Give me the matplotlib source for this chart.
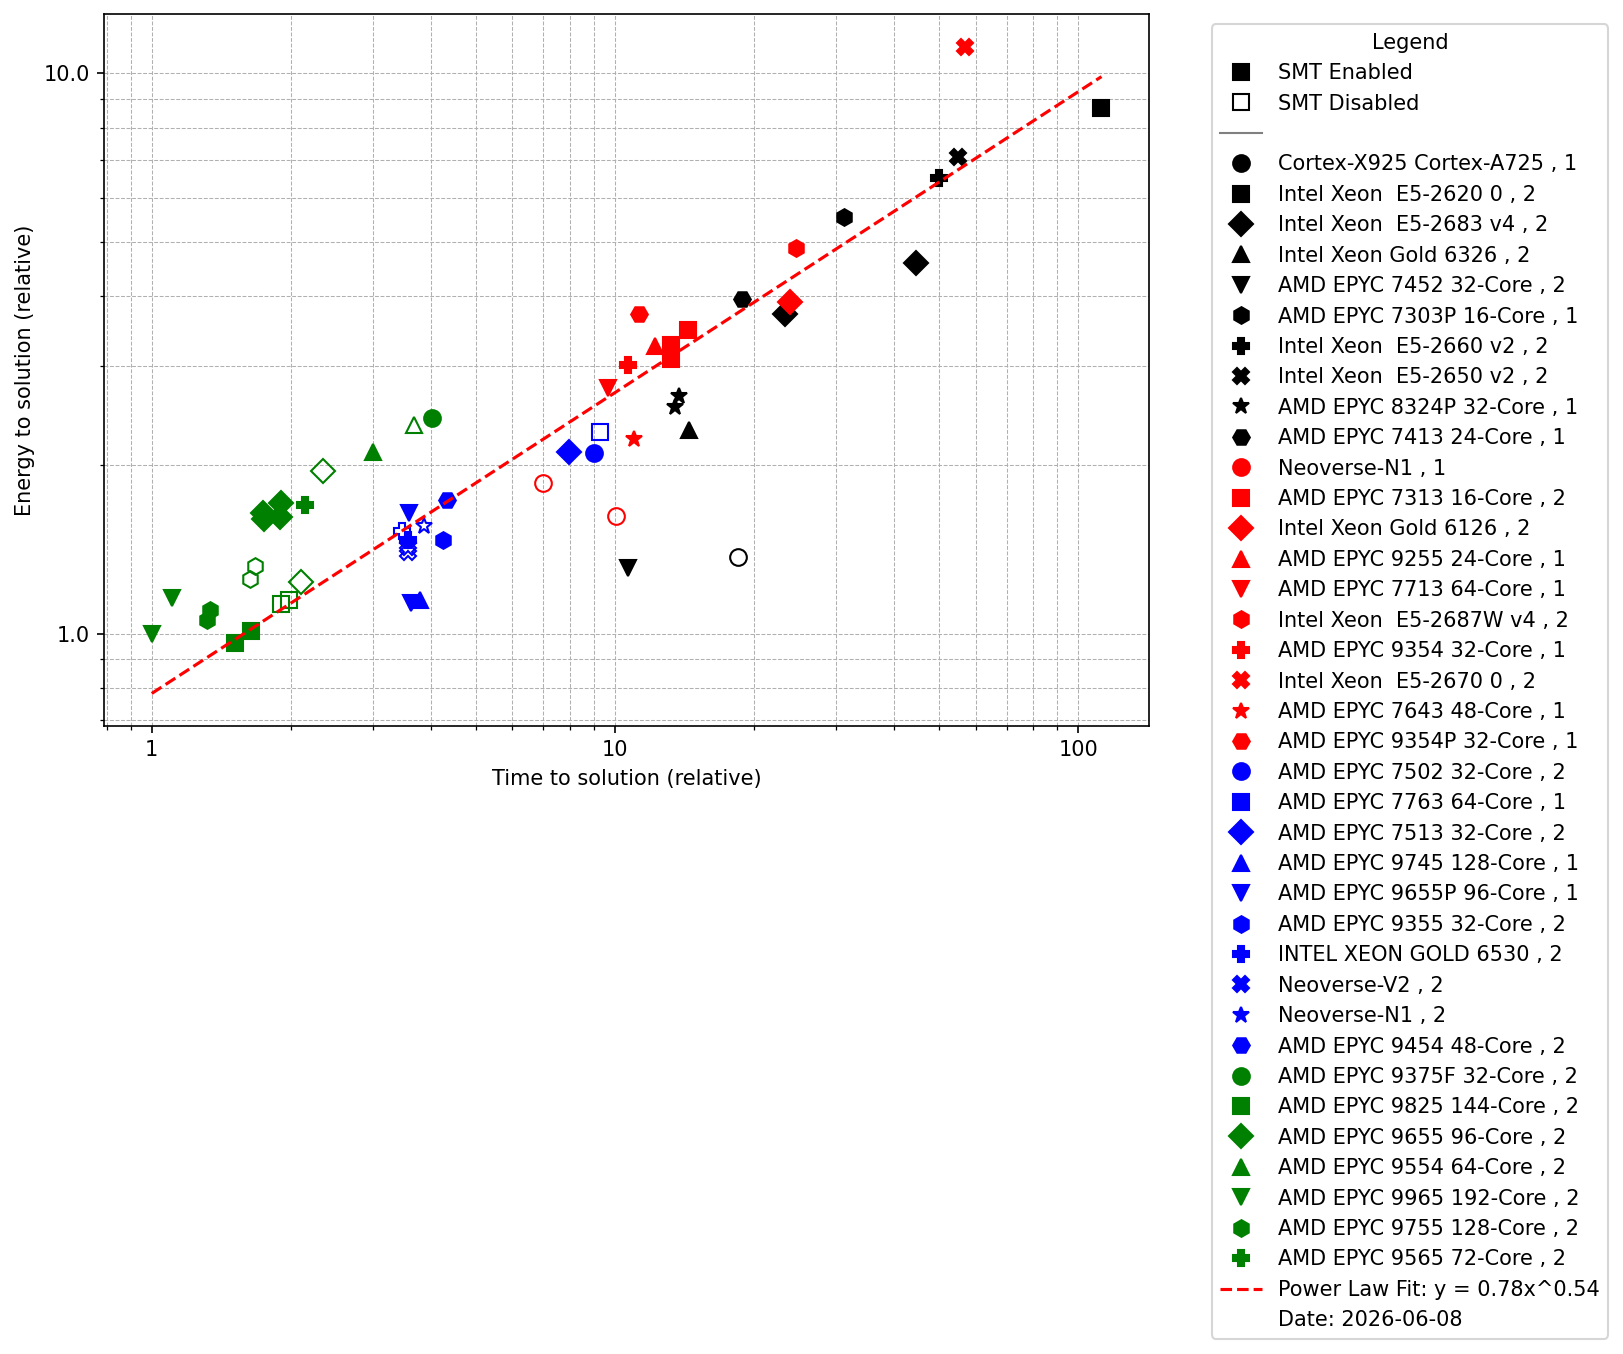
import matplotlib
matplotlib.use("Agg")
import matplotlib.pyplot as plt
from matplotlib.lines import Line2D
from matplotlib.ticker import FormatStrFormatter, FuncFormatter, NullFormatter
import numpy as np

cpu_names = [
    "Cortex-X925 Cortex-A725 , 1", "Intel Xeon  E5-2620 0 , 2", "Intel Xeon  E5-2683 v4 , 2",
    "Intel Xeon Gold 6326 , 2", "AMD EPYC 7452 32-Core , 2", "AMD EPYC 7303P 16-Core , 1",
    "Intel Xeon  E5-2660 v2 , 2", "Intel Xeon  E5-2650 v2 , 2", "AMD EPYC 8324P 32-Core , 1",
    "AMD EPYC 7413 24-Core , 1",
    "Neoverse-N1 , 1", "AMD EPYC 7313 16-Core , 2", "Intel Xeon Gold 6126 , 2",
    "AMD EPYC 9255 24-Core , 1", "AMD EPYC 7713 64-Core , 1", "Intel Xeon  E5-2687W v4 , 2",
    "AMD EPYC 9354 32-Core , 1", "Intel Xeon  E5-2670 0 , 2", "AMD EPYC 7643 48-Core , 1",
    "AMD EPYC 9354P 32-Core , 1",
    "AMD EPYC 7502 32-Core , 2", "AMD EPYC 7763 64-Core , 1", "AMD EPYC 7513 32-Core , 2",
    "AMD EPYC 9745 128-Core , 1", "AMD EPYC 9655P 96-Core , 1", "AMD EPYC 9355 32-Core , 2",
    "INTEL XEON GOLD 6530 , 2", "Neoverse-V2 , 2", "Neoverse-N1 , 2",
    "AMD EPYC 9454 48-Core , 2",
    "AMD EPYC 9375F 32-Core , 2", "AMD EPYC 9825 144-Core , 2", "AMD EPYC 9655 96-Core , 2",
    "AMD EPYC 9554 64-Core , 2", "AMD EPYC 9965 192-Core , 2", "AMD EPYC 9755 128-Core , 2",
    "AMD EPYC 9565 72-Core , 2",
]

# one entry per measurement: which cpu, relative time, relative energy, SMT on?
point_cpu = [0, 1, 2, 2, 3, 4, 5, 6, 7, 8, 8, 9,
             10, 10, 11, 11, 11, 12, 13, 14, 15, 16, 17, 18, 19,
             20, 21, 22, 23, 24, 24, 25, 26, 26, 27, 27, 28, 29,
             30, 31, 31, 31, 31, 32, 32, 32, 32, 32, 32, 33, 33, 34, 34,
             35, 35, 35, 35, 36]
point_time = [18.45, 112.2, 44.74, 23.32, 14.45, 10.67, 31.2, 50.04, 55.08, 13.75, 13.45, 18.78,
              7.0, 10.06, 14.38, 13.23, 13.23, 23.82, 12.22, 9.66, 24.55, 10.67, 57.07, 10.99, 11.28,
              9.02, 9.28, 7.96, 3.795, 3.592, 3.623, 4.26, 3.58, 3.47, 3.58, 3.58, 3.877, 4.346,
              4.034, 1.513, 1.636, 1.898, 1.976, 1.736, 1.748, 1.905, 1.889, 2.097, 2.343, 3.004, 3.683,
              1.0, 1.106,
              1.336, 1.314, 1.671, 1.633, 2.139]
point_energy = [1.369, 8.67, 4.59, 3.715, 2.309, 1.308, 5.55, 6.51, 7.10, 2.659, 2.535, 3.963,
                1.855, 1.620, 3.487, 3.280, 3.092, 3.908, 3.262, 2.741, 4.88, 3.016, 11.16, 2.223, 3.72,
                2.104, 2.291, 2.113, 1.148, 1.640, 1.133, 1.469, 1.469, 1.525, 1.428, 1.399, 1.558, 1.732,
                2.423, 0.964, 1.012, 1.130, 1.148, 1.640, 1.600, 1.713, 1.613, 1.238, 1.954, 2.113, 2.357,
                1.0, 1.158,
                1.102, 1.058, 1.322, 1.252, 1.697]
point_smt = [False, True, True, True, True, True, True, True, True, True, True, True,
             False, False, True, True, True, True, True, True, True, True, True, True, True,
             True, False, True, True, True, True, True, True, False, False, False, False, True,
             True, True, True, False, False, True, True, True, True, False, False, True, False,
             True, True,
             True, True, False, False, True]

fit_a = 0.782
fit_b = 0.537
date_str = "2026-06-08"

colors = ["black", "red", "blue", "green"]
markers = ["o", "s", "D", "^", "v", "h", "P", "X", "*", "H"]

point_cpu = np.array(point_cpu)
point_time = np.array(point_time)
point_energy = np.array(point_energy)
point_smt = np.array(point_smt)

fig = plt.figure(figsize=(1623 / 150, 1354 / 150), dpi=150)
ax = fig.add_axes([0.06426, 0.46403, 0.64368, 0.52563])

cpu_handles = []
for i, name in enumerate(cpu_names):
    c = colors[i // 10]
    m = markers[i % 10]
    sel = point_cpu == i
    on = sel & point_smt
    off = sel & ~point_smt
    if on.any():
        ax.plot(point_time[on], point_energy[on], ls="none", marker=m, color=c, markersize=8)
    if off.any():
        ax.plot(point_time[off], point_energy[off], ls="none", marker=m, markersize=8,
                markerfacecolor="none", markeredgecolor=c)
    cpu_handles.append(Line2D([0], [0], ls="none", marker=m, color=c, markersize=8))

xfit = np.linspace(point_time.min(), point_time.max(), 200)
yfit = fit_a * xfit ** fit_b
fit_line, = ax.plot(xfit, yfit, "r--", linewidth=1.5)

ax.set_xscale("log")
ax.set_yscale("log")
ax.set_xlim(0.790, 142.1)
ax.set_ylim(0.685, 12.76)
ax.xaxis.set_major_formatter(FuncFormatter(lambda v, _: f"{v:g}"))
ax.yaxis.set_major_formatter(FormatStrFormatter("%.1f"))
ax.xaxis.set_minor_formatter(NullFormatter())
ax.yaxis.set_minor_formatter(NullFormatter())
ax.grid(True, which="both", linestyle="--", linewidth=0.5)
ax.set_xlabel("Time to solution (relative)")
ax.set_ylabel("Energy to solution (relative)")

handles = [
    Line2D([0], [0], ls="none", marker="s", color="black", markersize=8),
    Line2D([0], [0], ls="none", marker="s", markersize=8, markerfacecolor="none", markeredgecolor="black"),
    Line2D([0], [0], color="gray", linewidth=1),
] + cpu_handles + [
    fit_line,
    Line2D([0], [0], ls="none", marker=None, color="none"),
]
labels = ["SMT Enabled", "SMT Disabled", ""] + cpu_names + [
    f"Power Law Fit: y = {fit_a:.2f}x^{fit_b:.2f}",
    f"Date: {date_str}",
]
ax.legend(handles, labels, title="Legend", loc="upper left", bbox_to_anchor=(1.05, 1))

fig.savefig("out.png", dpi=150)
